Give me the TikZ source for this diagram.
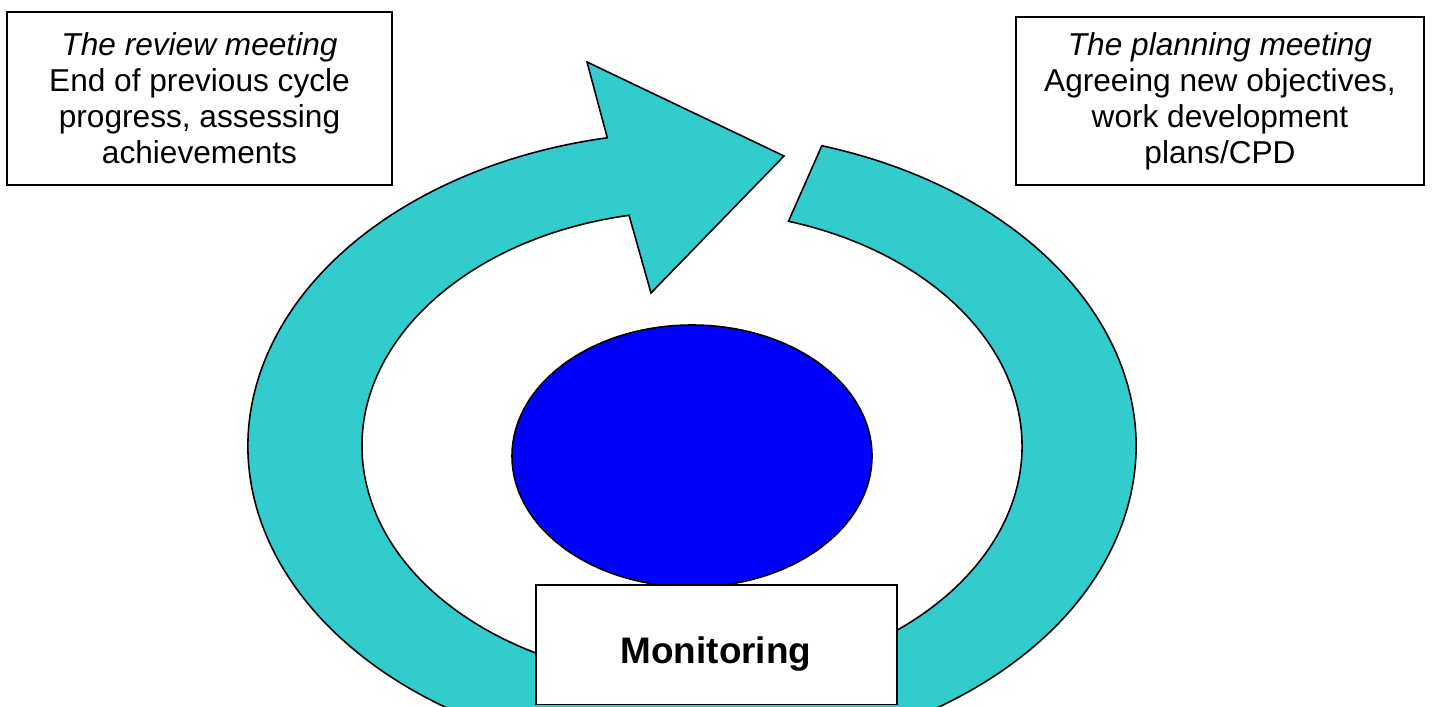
\documentclass[tikz,border=0pt]{standalone}
\usepackage{fontspec}
\setmainfont{Liberation Sans}
\definecolor{ringcyan}{RGB}{51,204,204}

\begin{document}
\begin{tikzpicture}[x=0.2mm,y=0.2mm,
  box/.style={draw=black,line width=0.9pt,fill=white,align=center,font=\fontsize{18}{20.5}\selectfont},
  ring/.style={draw=black,line width=0.9pt,fill=ringcyan}]
 \clip (0,0) rectangle (1432,706);
 \coordinate (ctr) at (692,260);
 \draw[ring] ([shift={(73:444 and 314)}]ctr) arc[start angle=73,end angle=-259,x radius=444,y radius=314]
   -- (587,644) coordinate (headtop) -- (784,550) coordinate (tip) -- (651,413) coordinate (headbot)
   -- ([shift={(101:330 and 235)}]ctr) arc[start angle=-259,end angle=73,x radius=330,y radius=235] -- cycle;
 \draw[line width=0.9pt,fill=blue] (692,250) ellipse [x radius=180,y radius=131];
 \node[box,minimum width=77mm,minimum height=34.6mm] (review) at (199.5,607.5)
   {\textit{The review meeting}\\End of previous cycle\\progress, assessing\\achievements};
 \node[box,minimum width=81.6mm,minimum height=33.6mm] (planning) at (1220,605)
   {\textit{The planning meeting}\\Agreeing new objectives,\\work development\\plans/CPD};
 \node[box,minimum width=72.2mm,minimum height=23.9mm] (mon) at (716.5,61.25) {};
 \node[font=\fontsize{21}{25}\selectfont\bfseries] (monlabel) at (716,52) {Monitoring};
\end{tikzpicture}
\end{document}
